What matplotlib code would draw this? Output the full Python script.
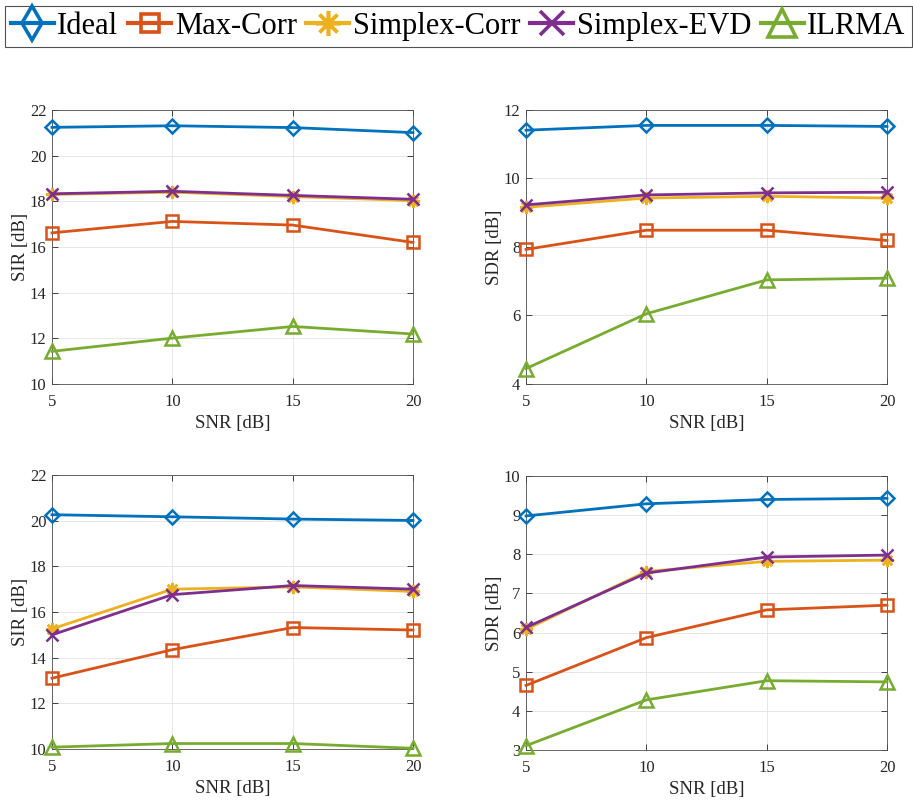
import matplotlib
matplotlib.use("Agg")
import matplotlib.pyplot as plt
from matplotlib.lines import Line2D

plt.rcParams['font.family'] = ['Liberation Serif', 'DejaVu Serif']
plt.rcParams['mathtext.fontset'] = 'stix'

snr = [5, 10, 15, 20]
methods = ['Ideal', 'Max-Corr', 'Simplex-Corr', 'Simplex-EVD', 'ILRMA']
colors = ['#0072BD', '#D95319', '#EDB120', '#7E2F8E', '#77AC30']
markers = ['D', 's', (8, 2, 0), 'x', '^']
leg_markers = ['d', 's', (8, 2, 0), 'x', '^']

# top-left: SIR
sir1_ideal = [21.24, 21.31, 21.23, 21.01]
sir1_maxcorr = [16.62, 17.12, 16.96, 16.20]
sir1_spxcorr = [18.30, 18.40, 18.21, 18.03]
sir1_spxevd = [18.33, 18.44, 18.26, 18.09]
sir1_ilrma = [11.43, 12.01, 12.52, 12.19]

# top-right: SDR
sdr1_ideal = [11.41, 11.55, 11.55, 11.52]
sdr1_maxcorr = [7.93, 8.49, 8.49, 8.19]
sdr1_spxcorr = [9.16, 9.43, 9.48, 9.43]
sdr1_spxevd = [9.23, 9.52, 9.58, 9.60]
sdr1_ilrma = [4.45, 6.05, 7.04, 7.09]

# bottom-left: SIR
sir2_ideal = [20.26, 20.17, 20.07, 20.01]
sir2_maxcorr = [13.10, 14.35, 15.32, 15.21]
sir2_spxcorr = [15.26, 17.00, 17.10, 16.90]
sir2_spxevd = [15.00, 16.76, 17.16, 17.00]
sir2_ilrma = [10.08, 10.24, 10.24, 10.03]

# bottom-right: SDR
sdr2_ideal = [8.98, 9.29, 9.40, 9.43]
sdr2_maxcorr = [4.65, 5.87, 6.58, 6.70]
sdr2_spxcorr = [6.08, 7.56, 7.82, 7.85]
sdr2_spxevd = [6.13, 7.52, 7.93, 7.98]
sdr2_ilrma = [3.11, 4.28, 4.77, 4.74]

panels = [
    dict(data=[sir1_ideal, sir1_maxcorr, sir1_spxcorr, sir1_spxevd, sir1_ilrma],
         ylabel='SIR [dB]', ylim=(10, 22), yticks=[10, 12, 14, 16, 18, 20, 22],
         rect=[52, 110, 413, 384]),
    dict(data=[sdr1_ideal, sdr1_maxcorr, sdr1_spxcorr, sdr1_spxevd, sdr1_ilrma],
         ylabel='SDR [dB]', ylim=(4, 12), yticks=[4, 6, 8, 10, 12],
         rect=[526, 110, 887, 384]),
    dict(data=[sir2_ideal, sir2_maxcorr, sir2_spxcorr, sir2_spxevd, sir2_ilrma],
         ylabel='SIR [dB]', ylim=(10, 22), yticks=[10, 12, 14, 16, 18, 20, 22],
         rect=[52, 475, 413, 749]),
    dict(data=[sdr2_ideal, sdr2_maxcorr, sdr2_spxcorr, sdr2_spxevd, sdr2_ilrma],
         ylabel='SDR [dB]', ylim=(3, 10), yticks=[3, 4, 5, 6, 7, 8, 9, 10],
         rect=[526, 476, 887, 750]),
]

W, H = 913, 802
fig = plt.figure(figsize=(W / 100, H / 100), dpi=100)

msizes = [6.8, 8, 9.5, 8.5, 10]
leg_msizes = [17, 13, 18, 17, 20]

for p in panels:
    x0, y0, x1, y1 = p['rect']
    ax = fig.add_axes([x0 / W, 1 - y1 / H, (x1 - x0) / W, (y1 - y0) / H])
    for i in range(5):
        ax.plot(snr, p['data'][i], color=colors[i], marker=markers[i], ms=msizes[i],
                mfc='none', mec=colors[i], mew=1.8, lw=2, clip_on=False, zorder=3)
    ax.set_xlim(5, 20)
    ax.set_ylim(*p['ylim'])
    ax.set_xticks(snr)
    ax.set_yticks(p['yticks'])
    ax.grid(True, color='#e3e3e3', lw=0.6)
    ax.set_axisbelow(True)
    ax.tick_params(direction='in', top=True, right=True, length=4, width=0.6,
                   labelsize=12, colors='#262626', pad=4)
    ax.tick_params(axis='x', pad=7)
    for s in ax.spines.values():
        s.set_color('#4d4d4d')
        s.set_linewidth(0.6)
    ax.set_xlabel('SNR [dB]', fontsize=13.5, color='#262626', labelpad=4)
    ax.set_ylabel(p['ylabel'], fontsize=13.5, color='#262626', labelpad=0.5)

handles = [Line2D([], [], color=colors[i], marker=leg_markers[i], ms=leg_msizes[i],
                  mfc='none', mec=colors[i], mew=2.6, lw=3) for i in range(5)]
leg = fig.legend(handles, methods, loc='upper center', bbox_to_anchor=(0.502, 0.9925),
                 ncol=5, fontsize=22, frameon=True, fancybox=False, edgecolor='#262626',
                 handlelength=1.4, handletextpad=0.12, columnspacing=0.32,
                 borderpad=0.2, borderaxespad=0.0)
leg.get_frame().set_linewidth(0.8)

fig.savefig('out.png', dpi=100)
